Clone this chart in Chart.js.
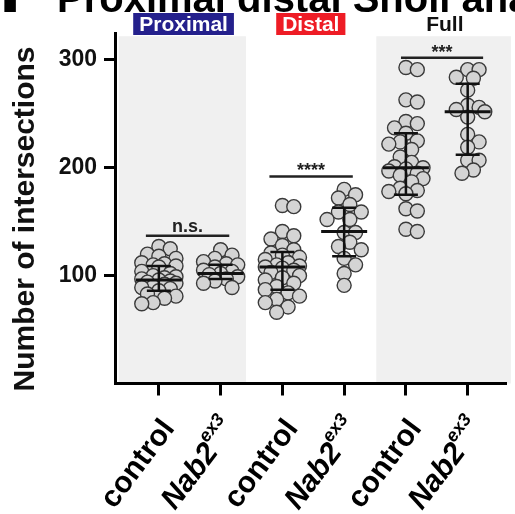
<!DOCTYPE html>
<html><head><meta charset="utf-8">
<script src="https://cdn.jsdelivr.net/npm/chart.js@4.4.1/dist/chart.umd.min.js"></script>
<style>html,body{margin:0;padding:0;background:#fff;}#wrap{width:515px;height:514px;position:relative;}</style>
</head><body><div id="wrap"><canvas id="c" width="515" height="514"></canvas></div>
<script>
// ---------- data ----------
const categories = ['control', 'Nab2', 'control', 'Nab2', 'control', 'Nab2'];
const categorySup = ['', 'ex3', '', 'ex3', '', 'ex3'];
const regionLabels = ['Proximal', 'Distal', 'Full'];
const yTicks = [100, 200, 300];

const proximalControl = [127, 125, 120, 118, 116, 112, 111, 110, 109, 108, 104, 102, 100, 99, 98, 97, 96, 95, 94, 93, 92, 90, 89, 88, 86, 83, 81, 79, 75, 74];
const proximalNab2 = [124, 119, 116, 113, 111, 110, 108, 105, 104, 102, 101, 99, 97, 95, 93, 89];
const distalControl = [165, 164, 141, 137, 134, 128, 124, 121, 119, 117, 115, 112, 110, 109, 108, 107, 105, 103, 100, 98, 96, 93, 90, 87, 84, 81, 78, 75, 71, 66];
const distalNab2 = [180, 175, 172, 166, 159, 159, 152, 152, 140, 140, 131, 127, 124, 116, 110, 102, 91];
const fullControl = [293, 291, 263, 261, 243, 241, 237, 232, 225, 224, 222, 217, 210, 205, 201, 200, 199, 197, 195, 193, 190, 187, 181, 179, 178, 176, 162, 160, 143, 141];
const fullNab2 = [291, 291, 284, 283, 272, 258, 256, 254, 252, 247, 231, 224, 219, 207, 207, 198, 195];

const medians = [96, 102, 108, 141, 200, 252];
const q1 = [86, 97, 87, 118, 175, 212];
const q3 = [109, 110, 122, 163, 232, 278];

const sigLabels = ['n.s.', '****', '***'];
const sigValues = [137, 192, 302];

// ---------- layout / style ----------
const groups = [proximalControl, proximalNab2, distalControl, distalNab2, fullControl, fullNab2];
const FONT = "'Liberation Sans', Arial, Helvetica, sans-serif";
const sigFrom = [0.79, 2.79, 4.92];
const sigTo = [2.14, 4.14, 6.25];
const regionLabelX = [1.4, 3.46, 5.63];
const regionBoxColors = ['#24208c', '#ee1c25', null];
const bandRanges = [[0.35, 2.41], [4.52, 6.7]];
const bandTop = 322;

const decor = {
  id: 'decor',
  beforeDraw(chart) {
    const { ctx, chartArea: a, scales: { x, y } } = chart;
    ctx.save();
    ctx.fillStyle = '#f0f0f0';
    bandRanges.forEach(([l, r]) => {
      const x0 = x.getPixelForValue(l), x1 = Math.min(x.getPixelForValue(r), chart.width);
      const yt = y.getPixelForValue(bandTop);
      ctx.fillRect(x0, yt, x1 - x0, a.bottom - yt);
    });
    ctx.restore();
  },
  afterDatasetsDraw(chart) {
    const { ctx, scales: { x, y } } = chart;
    ctx.save();
    ctx.strokeStyle = '#111';
    ctx.lineCap = 'butt';
    groups.forEach((g, i) => {
      const cx = x.getPixelForValue(i + 1);
      const pm = y.getPixelForValue(medians[i]);
      const p1 = y.getPixelForValue(q1[i]);
      const p3 = y.getPixelForValue(q3[i]);
      ctx.lineWidth = 2.5;
      ctx.beginPath();
      ctx.moveTo(cx, p1); ctx.lineTo(cx, p3);
      ctx.moveTo(cx - 12, p1); ctx.lineTo(cx + 12, p1);
      ctx.moveTo(cx - 12, p3); ctx.lineTo(cx + 12, p3);
      ctx.stroke();
      ctx.lineWidth = 3;
      ctx.beginPath();
      ctx.moveTo(cx - 23, pm); ctx.lineTo(cx + 23, pm);
      ctx.stroke();
    });
    // significance bars
    sigLabels.forEach((lab, i) => {
      const x0 = x.getPixelForValue(sigFrom[i]), x1 = x.getPixelForValue(sigTo[i]);
      const py = y.getPixelForValue(sigValues[i]);
      ctx.strokeStyle = '#222';
      ctx.lineWidth = 2.5;
      ctx.beginPath(); ctx.moveTo(x0, py); ctx.lineTo(x1, py); ctx.stroke();
      ctx.fillStyle = '#222';
      ctx.textAlign = 'center';
      ctx.textBaseline = 'alphabetic';
      ctx.font = `bold 18px ${FONT}`;
      ctx.fillText(lab, (x0 + x1) / 2, lab === 'n.s.' ? py - 4 : py);
    });
    ctx.restore();
  },
  afterDraw(chart) {
    const { ctx, chartArea: a, scales: { x, y } } = chart;
    ctx.save();
    // cut-off panel title
    ctx.fillStyle = '#000';
    ctx.textBaseline = 'alphabetic';
    ctx.textAlign = 'left';
    ctx.font = `bold 80px ${FONT}`;
    ctx.fillText('F', -1, 12);
    ctx.font = `bold 40px ${FONT}`;
    ctx.fillText('Proximal distal Sholl analysis', 57, 12);
    // region headers
    regionLabels.forEach((lab, i) => {
      const cx = x.getPixelForValue(regionLabelX[i]);
      ctx.font = `bold 21px ${FONT}`;
      const w = ctx.measureText(lab).width;
      if (regionBoxColors[i]) {
        ctx.fillStyle = regionBoxColors[i];
        ctx.fillRect(cx - w / 2 - 6, 13, w + 12, 22);
        ctx.fillStyle = '#fff';
      } else {
        ctx.fillStyle = '#111';
      }
      ctx.textAlign = 'center';
      ctx.textBaseline = 'middle';
      ctx.fillText(lab, cx, 25);
    });
    // y axis title
    ctx.save();
    ctx.translate(26, 219);
    ctx.rotate(-Math.PI / 2);
    ctx.fillStyle = '#111';
    ctx.font = `bold 30px ${FONT}`;
    ctx.textAlign = 'center';
    ctx.textBaseline = 'middle';
    ctx.fillText('Number of intersections', 0, 0);
    ctx.restore();
    // x category labels (rotated, with superscripts)
    const ang = -53 * Math.PI / 180;
    categories.forEach((lab, i) => {
      const px = x.getPixelForValue(i + 1);
      const sup = categorySup[i];
      const ital = sup ? 'italic ' : '';
      ctx.save();
      ctx.translate(px + 10, a.bottom + 40);
      ctx.rotate(ang);
      ctx.fillStyle = '#000';
      ctx.textBaseline = 'middle';
      ctx.textAlign = 'left';
      ctx.font = `${ital}bold 30px ${FONT}`;
      const w1 = ctx.measureText(lab).width;
      ctx.font = `${ital}bold 18px ${FONT}`;
      const w2 = sup ? ctx.measureText(sup).width : 0;
      const total = w1 + w2;
      ctx.font = `${ital}bold 30px ${FONT}`;
      ctx.fillText(lab, -total, 0);
      if (sup) {
        ctx.font = `${ital}bold 18px ${FONT}`;
        ctx.fillText(sup, -total + w1, -12);
      }
      ctx.restore();
    });
    ctx.restore();
  }
};

const datasets = groups.map((g, i) => ({
  label: categories[i] + categorySup[i],
  data: g.map(v => ({ x: i + 1, y: v })),
  pointRadius: 7,
  pointHoverRadius: 7,
  pointBorderWidth: 1.4,
  borderColor: '#3a3a3a',
  backgroundColor: '#d4d4d4'
}));

const chart = new Chart(document.getElementById('c'), {
  type: 'scatter',
  data: { datasets },
  options: {
    responsive: false,
    animation: false,
    layout: { padding: { top: 33, right: 0, bottom: 0, left: 0 } },
    plugins: { legend: { display: false }, tooltip: { enabled: false }, title: { display: false } },
    scales: {
      x: {
        type: 'linear', min: 0.29, max: 6.63,
        afterBuildTicks: s => { s.ticks = categories.map((c, i) => ({ value: i + 1 })); },
        afterFit: s => { s.height = 130.5; },
        ticks: { display: false },
        grid: { display: true, drawOnChartArea: false, drawTicks: true, tickLength: 12, tickWidth: 3, tickColor: '#000' },
        border: { display: true, width: 3, color: '#000' }
      },
      y: {
        type: 'linear', min: 0, max: 325,
        afterBuildTicks: s => { s.ticks = yTicks.map(v => ({ value: v })); },
        afterFit: s => { s.width = 115; },
        ticks: { color: '#111', font: { family: FONT, size: 23, weight: 'bold' }, padding: 7 },
        grid: { display: true, drawOnChartArea: false, drawTicks: true, tickLength: 11, tickWidth: 3, tickColor: '#000' },
        border: { display: true, width: 3, color: '#000' }
      }
    }
  },
  plugins: [decor]
});

// beeswarm arrangement of the points (computed from the values via the chart scales),
// limited in width so dense groups overlap like the original scatter dot plot
(function swarm() {
  const xs = chart.scales.x, ys = chart.scales.y;
  const unit = xs.getPixelForValue(1) - xs.getPixelForValue(0);
  const STEP = 5.7, MIND = 10, MAXK = 6;
  groups.forEach((vals, gi) => {
    const placed = [];
    const offs = new Array(vals.length).fill(0);
    const order = vals.map((v, i) => i).sort((a, b) => vals[b] - vals[a]);
    order.forEach(i => {
      const py = ys.getPixelForValue(vals[i]);
      let best = 0, bestD = -1, found = false;
      for (let k = 0; k <= MAXK; k++) {
        const o = (k % 2 ? 1 : -1) * Math.ceil(k / 2) * STEP;
        const d = placed.length ? Math.min(...placed.map(p => Math.hypot(p.x - o, p.y - py))) : Infinity;
        if (d >= MIND) { best = o; found = true; break; }
        if (d > bestD) { bestD = d; best = o; }
      }
      offs[i] = best; placed.push({ x: best, y: py });
    });
    chart.data.datasets[gi].data = vals.map((v, i) => ({ x: gi + 1 + offs[i] / unit, y: v }));
  });
  chart.update('none');
})();
</script>
</body></html>
